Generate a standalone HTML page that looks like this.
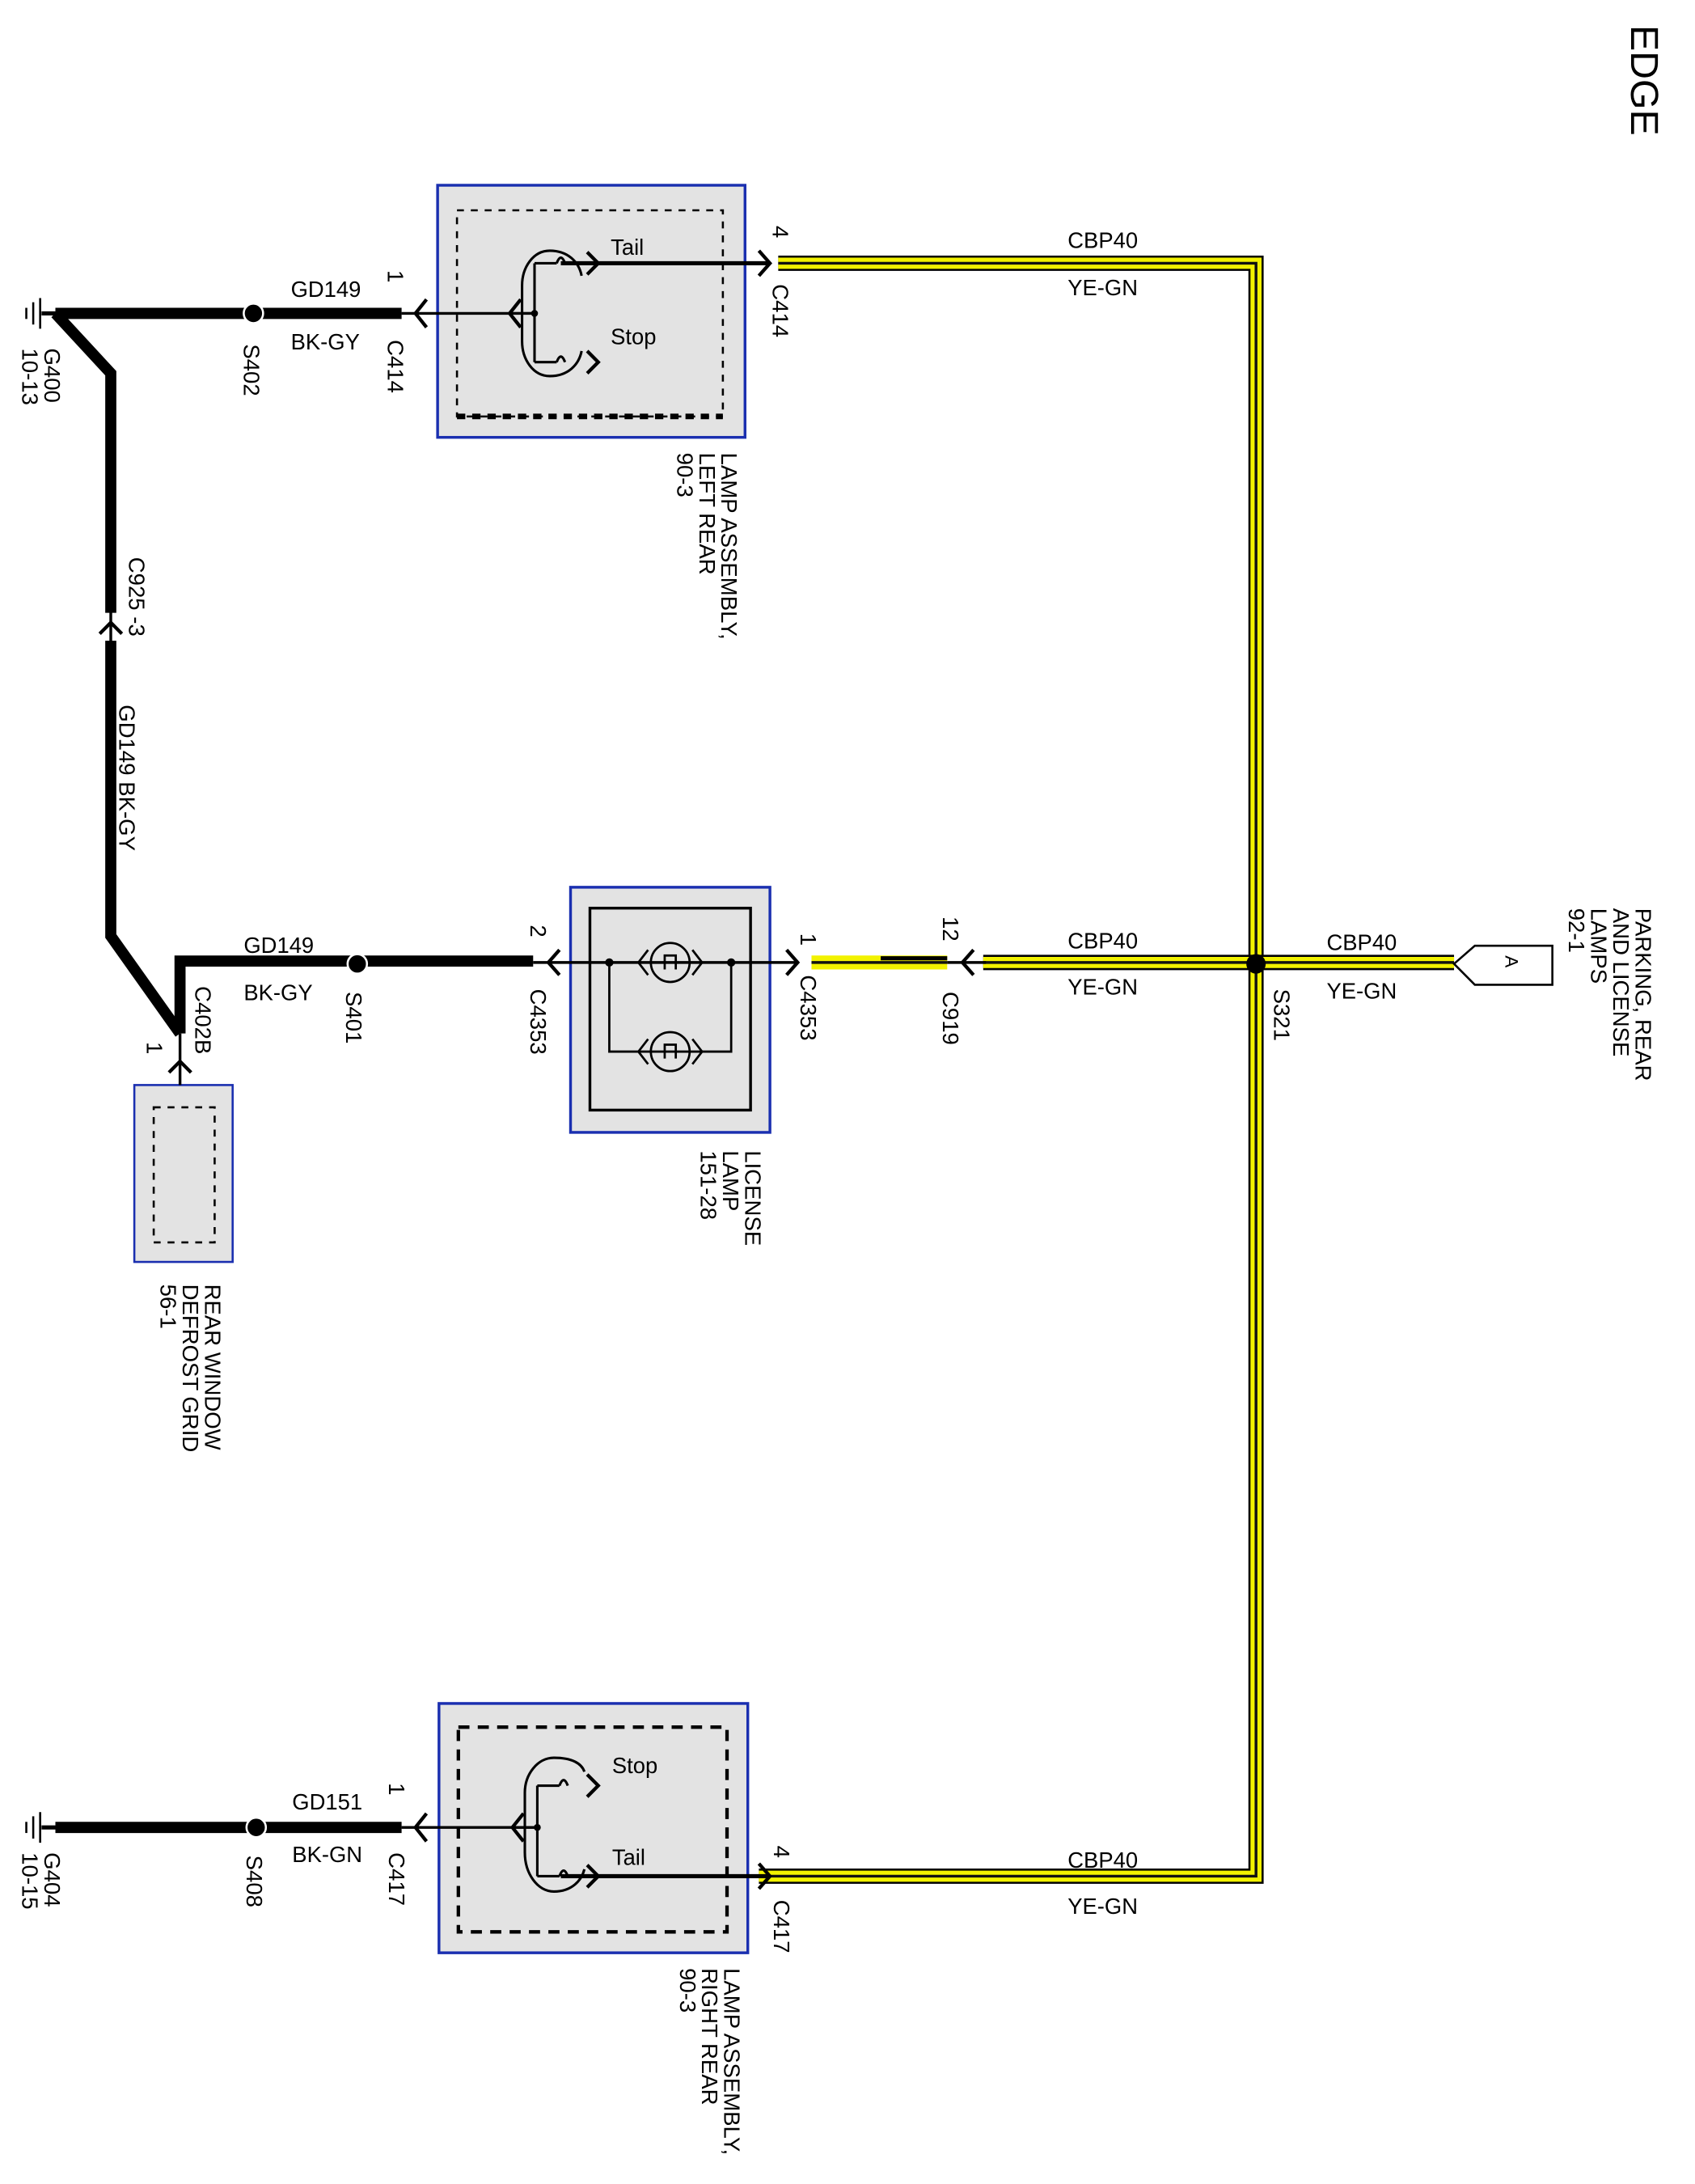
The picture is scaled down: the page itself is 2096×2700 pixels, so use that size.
<!DOCTYPE html>
<html><head><meta charset="utf-8"><style>
html,body{margin:0;padding:0;background:#fff}
svg{display:block}
text{font-family:"Liberation Sans",Arial,sans-serif;font-size:16px;fill:#000}
</style></head><body>
<svg width="2096" height="2700" viewBox="0 0 1224 1568" preserveAspectRatio="none" xmlns="http://www.w3.org/2000/svg">
<rect width="1224" height="1568" fill="#fff"/>
<text transform="translate(1178,18) rotate(90)" style="font-size:28px">EDGE</text>

<!-- component boxes -->
<rect x="316" y="133" width="222" height="181" fill="#e3e3e3" stroke="#1a2fb0" stroke-width="2"/>
<rect x="330" y="151" width="192" height="148" fill="none" stroke="#000" stroke-width="1.5" stroke-dasharray="5,5"/>
<line x1="330" y1="299" x2="522" y2="299" stroke="#000" stroke-width="4" stroke-dasharray="6,5"/>
<rect x="317" y="1223" width="223" height="179" fill="#e3e3e3" stroke="#1a2fb0" stroke-width="2"/>
<rect x="331" y="1240" width="194" height="147" fill="none" stroke="#000" stroke-width="2.5" stroke-dasharray="8,6"/>
<rect x="412" y="637" width="144" height="176" fill="#e3e3e3" stroke="#1a2fb0" stroke-width="2"/>
<rect x="426" y="652" width="116" height="145" fill="none" stroke="#000" stroke-width="2"/>
<rect x="97" y="779" width="71" height="127" fill="#e3e3e3" stroke="#1a2fb0" stroke-width="1.5"/>
<rect x="111" y="795" width="44" height="97" fill="none" stroke="#000" stroke-width="1.5" stroke-dasharray="5,5"/>

<!-- yellow wires -->
<g fill="none" stroke-linejoin="miter">
<polyline points="562,189 907,189 907,1347 548,1347" stroke="#000" stroke-width="11"/>
<polyline points="562,189 907,189 907,1347 548,1347" stroke="#f2f200" stroke-width="8"/>
<polyline points="562,189 907,189 907,1347 548,1347" stroke="#111" stroke-width="2"/>
<polyline points="710,691 1050,691" stroke="#000" stroke-width="11"/>
<polyline points="710,691 1050,691" stroke="#f2f200" stroke-width="8"/>
<polyline points="710,691 1050,691" stroke="#111" stroke-width="2"/>
<polyline points="586,691 684,691" stroke="#f2f200" stroke-width="10"/>
<polyline points="636,688 684,688" stroke="#000" stroke-width="3"/>
<polyline points="586,691 684,691" stroke="#111" stroke-width="2"/>
</g>
<circle cx="907" cy="692" r="7" fill="#000"/>
<polygon points="1050,692 1065,679 1121,679 1121,707 1065,707" fill="#fff" stroke="#000" stroke-width="1.5"/>
<text transform="translate(1087,686) rotate(90)" style="font-size:13px">A</text>

<!-- thick black wires -->
<g fill="none" stroke="#000" stroke-width="8" stroke-linejoin="miter">
<polyline points="40,225 290,225"/>
<polyline points="40,225 80,268 80,672 130,742"/>
<polyline points="130,742 130,690 385,690"/>
<polyline points="40,1312 290,1312"/>
</g>
<line x1="80" y1="440" x2="80" y2="460" stroke="#fff" stroke-width="10"/>
<circle cx="183" cy="225" r="7" fill="#000" stroke="#fff" stroke-width="1.5"/>
<circle cx="258" cy="692" r="7" fill="#000" stroke="#fff" stroke-width="1.5"/>
<circle cx="185" cy="1312" r="7" fill="#000" stroke="#fff" stroke-width="1.5"/>

<!-- thin wires -->
<g fill="none" stroke="#000" stroke-width="2">
<line x1="290" y1="225" x2="386" y2="225"/>
<line x1="405" y1="189" x2="555" y2="189" stroke-width="3"/>
<line x1="385" y1="691" x2="575" y2="691"/>
<line x1="684" y1="691" x2="712" y2="691"/>
<line x1="130" y1="742" x2="130" y2="779"/>
<line x1="290" y1="1312" x2="388" y2="1312"/>
<line x1="405" y1="1347" x2="555" y2="1347" stroke-width="3"/>
<line x1="80" y1="436" x2="80" y2="462" stroke-width="2"/>
</g>

<!-- ground symbols -->
<g stroke="#000" stroke-width="1.5">
<line x1="30" y1="225" x2="40" y2="225" stroke-width="3"/>
<line x1="29" y1="214" x2="29" y2="236"/><line x1="24" y1="217" x2="24" y2="233"/><line x1="19" y1="221" x2="19" y2="229"/>
<line x1="30" y1="1312" x2="40" y2="1312" stroke-width="3"/>
<line x1="29" y1="1301" x2="29" y2="1323"/><line x1="24" y1="1304" x2="24" y2="1320"/><line x1="19" y1="1308" x2="19" y2="1316"/>
</g>

<!-- connector arrows -->
<g fill="none" stroke="#000" stroke-width="2.5">
<path d="M308,215 L300,225 L308,235"/>
<path d="M548,180 L556,189 L548,198"/>
<path d="M404,682 L396,691 L404,700"/>
<path d="M568,682 L576,691 L568,700"/>
<path d="M703,682 L695,691 L703,700"/>
<path d="M308,1302 L300,1312 L308,1322"/>
<path d="M548,1338 L556,1347 L548,1356"/>
<path d="M72,455 L80,447 L88,455"/>
<path d="M122,770 L130,762 L138,770"/>
<path d="M376,215 L368,225 L376,235"/>
<path d="M378,1302 L370,1312 L378,1322"/>
<path d="M424,181 L432,189 L424,197"/>
<path d="M424,252 L432,260 L424,268"/>
<path d="M424,1274 L432,1282 L424,1290"/>
<path d="M424,1339 L432,1347 L424,1355"/>
</g>

<!-- left lamp bulbs -->
<g fill="none" stroke="#000" stroke-width="1.8">
<path d="M397,180 C385,180 377,192 377,205 L377,245 C377,258 385,270 397,270 C410,270 418,262 420,252 M420,198 C418,188 410,180 397,180"/>
<path d="M386,189 L386,260 M386,189 L402,189 M386,260 L402,260 M386,225 L370,225"/>
<path d="M402,189 q3,-8 6,0 M402,260 q3,-8 6,0"/>
</g>
<circle cx="386" cy="225" r="2.5" fill="#000"/>
<!-- right lamp bulbs -->
<g fill="none" stroke="#000" stroke-width="1.8">
<path d="M400,1262 C388,1262 379,1274 379,1287 L379,1330 C379,1345 388,1358 400,1358 C413,1358 420,1350 422,1342 M422,1272 C420,1266 413,1262 400,1262"/>
<path d="M388,1282 L388,1347 M388,1282 L404,1282 M388,1347 L404,1347 M388,1312 L370,1312"/>
<path d="M404,1282 q3,-8 6,0 M404,1347 q3,-8 6,0"/>
</g>
<circle cx="388" cy="1312" r="2.5" fill="#000"/>
<!-- license lamp bulbs -->
<g fill="none" stroke="#000" stroke-width="1.6">
<circle cx="484" cy="691" r="14"/><circle cx="484" cy="755" r="14"/>
<path d="M440,691 L440,755 L528,755 L528,691"/>
<path d="M468,682 L461,691 L468,700 M500,682 L507,691 L500,700 M468,746 L461,755 L468,764 M500,746 L507,755 L500,764"/>
<path d="M480,696 L480,686 L488,686 L488,696 M480,760 L480,750 L488,750 L488,760"/>
</g>
<circle cx="440" cy="691" r="3" fill="#000"/><circle cx="528" cy="691" r="3" fill="#000"/>

<!-- horizontal labels -->
<text x="441" y="183">Tail</text>
<text x="441" y="247">Stop</text>
<text x="442" y="1273">Stop</text>
<text x="442" y="1339">Tail</text>
<text x="210" y="213">GD149</text>
<text x="210" y="251">BK-GY</text>
<text x="176" y="684">GD149</text>
<text x="176" y="718">BK-GY</text>
<text x="211" y="1299">GD151</text>
<text x="211" y="1337">BK-GN</text>
<text x="771" y="178">CBP40</text>
<text x="771" y="212">YE-GN</text>
<text x="771" y="681">CBP40</text>
<text x="771" y="714">YE-GN</text>
<text x="958" y="682">CBP40</text>
<text x="958" y="717">YE-GN</text>
<text x="771" y="1341">CBP40</text>
<text x="771" y="1374">YE-GN</text>

<!-- rotated labels -->
<g>
<text transform="translate(558,162) rotate(90)">4</text>
<text transform="translate(558,204) rotate(90)">C414</text>
<text transform="translate(280,194) rotate(90)">1</text>
<text transform="translate(280,244) rotate(90)">C414</text>
<text transform="translate(176,247) rotate(90)">S402</text>
<text transform="translate(32,250) rotate(90)">G400</text>
<text transform="translate(16,250) rotate(90)">10-13</text>
<text transform="translate(521,325) rotate(90)">LAMP ASSEMBLY,</text>
<text transform="translate(505,325) rotate(90)">LEFT REAR</text>
<text transform="translate(489,325) rotate(90)">90-3</text>
<text transform="translate(93,400) rotate(90)">C925  -3</text>
<text transform="translate(86,506) rotate(90)">GD149   BK-GY</text>
<text transform="translate(250,712) rotate(90)">S401</text>
<text transform="translate(141,708) rotate(90)">C402B</text>
<text transform="translate(106,748) rotate(90)">1</text>
<text transform="translate(148,922) rotate(90)">REAR WINDOW</text>
<text transform="translate(132,922) rotate(90)">DEFROST GRID</text>
<text transform="translate(116,922) rotate(90)">56-1</text>
<text transform="translate(383,664) rotate(90)">2</text>
<text transform="translate(383,710) rotate(90)">C4353</text>
<text transform="translate(578,670) rotate(90)">1</text>
<text transform="translate(578,700) rotate(90)">C4353</text>
<text transform="translate(681,658) rotate(90)">12</text>
<text transform="translate(681,712) rotate(90)">C919</text>
<text transform="translate(920,710) rotate(90)">S321</text>
<text transform="translate(538,826) rotate(90)">LICENSE</text>
<text transform="translate(522,826) rotate(90)">LAMP</text>
<text transform="translate(506,826) rotate(90)">151-28</text>
<text transform="translate(1181,652) rotate(90)">PARKING, REAR</text>
<text transform="translate(1165,652) rotate(90)">AND LICENSE</text>
<text transform="translate(1149,652) rotate(90)">LAMPS</text>
<text transform="translate(1133,652) rotate(90)">92-1</text>
<text transform="translate(281,1280) rotate(90)">1</text>
<text transform="translate(281,1330) rotate(90)">C417</text>
<text transform="translate(178,1332) rotate(90)">S408</text>
<text transform="translate(32,1330) rotate(90)">G404</text>
<text transform="translate(16,1330) rotate(90)">10-15</text>
<text transform="translate(559,1325) rotate(90)">4</text>
<text transform="translate(559,1364) rotate(90)">C417</text>
<text transform="translate(523,1413) rotate(90)">LAMP ASSEMBLY,</text>
<text transform="translate(507,1413) rotate(90)">RIGHT REAR</text>
<text transform="translate(491,1413) rotate(90)">90-3</text>
</g>
</svg>
</body></html>
